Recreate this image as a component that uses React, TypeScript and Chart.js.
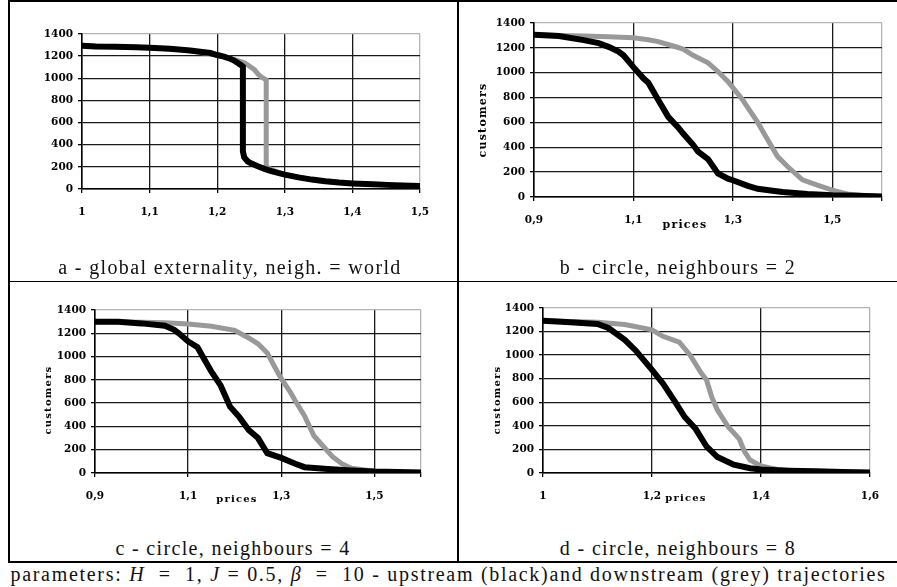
import React, { useEffect, useRef } from "react";
import { Chart, registerables } from "chart.js";
Chart.register(...registerables);

// ---------- data ----------
const yTickValues = [0, 200, 400, 600, 800, 1000, 1200, 1400];

// panel a - global externality
const aXTicks = [1, 1.1, 1.2, 1.3, 1.4, 1.5];
const aXLabels = ["1", "1,1", "1,2", "1,3", "1,4", "1,5"];
const aBlackX = [1.0, 1.02, 1.05, 1.08, 1.1, 1.13, 1.16, 1.19, 1.2, 1.21, 1.22, 1.225, 1.23, 1.235, 1.238, 1.238, 1.24, 1.245, 1.25, 1.26, 1.27, 1.28, 1.29, 1.3, 1.32, 1.34, 1.36, 1.38, 1.4, 1.43, 1.46, 1.5];
const aBlackY = [1295, 1288, 1284, 1280, 1276, 1266, 1250, 1228, 1210, 1195, 1175, 1160, 1140, 1120, 1105, 340, 285, 250, 232, 205, 182, 162, 145, 130, 105, 85, 70, 58, 50, 42, 35, 28];
const aGreyX = [1.0, 1.05, 1.1, 1.15, 1.2, 1.22, 1.235, 1.24, 1.245, 1.25, 1.255, 1.26, 1.265, 1.27, 1.2725, 1.2725, 1.28, 1.29, 1.3, 1.35, 1.4, 1.5];
const aGreyY = [1295, 1284, 1276, 1258, 1210, 1180, 1150, 1140, 1122, 1100, 1078, 1040, 1012, 995, 985, 205, 175, 150, 130, 75, 50, 28];

// panel b - circle, neighbours = 2
const bXTicks = [0.9, 1.1, 1.3, 1.5, 1.6];
const bXLabels = ["0,9", "1,1", "1,3", "1,5", ""];
const bBlackX = [0.9, 0.95, 1.0, 1.03, 1.05, 1.07, 1.08, 1.1, 1.12, 1.13, 1.15, 1.17, 1.19, 1.2, 1.22, 1.23, 1.25, 1.27, 1.29, 1.3, 1.33, 1.35, 1.38, 1.4, 1.45, 1.5, 1.55, 1.6];
const bBlackY = [1305, 1295, 1262, 1238, 1208, 1170, 1140, 1045, 955, 920, 780, 645, 560, 510, 420, 365, 305, 190, 148, 135, 90, 66, 50, 40, 25, 15, 10, 5];
const bGreyX = [0.9, 0.95, 1.0, 1.05, 1.1, 1.13, 1.15, 1.18, 1.2, 1.22, 1.25, 1.27, 1.29, 1.3, 1.32, 1.33, 1.35, 1.37, 1.39, 1.41, 1.44, 1.47, 1.5, 1.53, 1.56, 1.6];
const bGreyY = [1305, 1300, 1295, 1290, 1282, 1265, 1250, 1215, 1190, 1140, 1080, 1010, 930, 880, 780, 720, 600, 460, 325, 245, 138, 95, 55, 25, 12, 5];

// panel c - circle, neighbours = 4
const cXTicks = [0.9, 1.1, 1.3, 1.5, 1.6];
const cXLabels = ["0,9", "1,1", "1,3", "1,5", ""];
const cBlackX = [0.9, 0.95, 1.0, 1.05, 1.07, 1.08, 1.1, 1.12, 1.13, 1.15, 1.17, 1.19, 1.21, 1.23, 1.25, 1.27, 1.3, 1.33, 1.35, 1.4, 1.45, 1.5, 1.55, 1.6];
const cBlackY = [1300, 1300, 1285, 1265, 1230, 1200, 1130, 1080, 1010, 870, 750, 570, 480, 370, 300, 170, 130, 80, 50, 35, 22, 12, 8, 5];
const cGreyX = [0.9, 1.0, 1.05, 1.1, 1.15, 1.2, 1.23, 1.25, 1.27, 1.29, 1.3, 1.32, 1.33, 1.35, 1.37, 1.39, 1.41, 1.43, 1.45, 1.5, 1.55, 1.6];
const cGreyY = [1300, 1295, 1290, 1280, 1260, 1225, 1160, 1110, 1030, 880, 810, 690, 620, 490, 320, 230, 140, 80, 40, 15, 8, 5];

// panel d - circle, neighbours = 8
const dXTicks = [1.0, 1.2, 1.4, 1.6];
const dXLabels = ["1", "1,2", "1,4", "1,6"];
const dBlackX = [1.0, 1.05, 1.1, 1.12, 1.15, 1.17, 1.2, 1.22, 1.24, 1.26, 1.28, 1.3, 1.32, 1.35, 1.38, 1.4, 1.45, 1.5, 1.55, 1.6];
const dBlackY = [1292, 1280, 1265, 1230, 1130, 1040, 875, 760, 620, 475, 375, 225, 135, 70, 40, 30, 20, 15, 8, 5];
const dGreyX = [1.0, 1.05, 1.1, 1.15, 1.2, 1.22, 1.25, 1.27, 1.29, 1.3, 1.31, 1.32, 1.34, 1.36, 1.37, 1.38, 1.4, 1.43, 1.46, 1.5, 1.6];
const dGreyY = [1292, 1285, 1280, 1260, 1215, 1160, 1110, 1000, 850, 790, 640, 535, 390, 290, 180, 110, 60, 30, 20, 12, 5];

const captions = [
  "a - global externality, neigh. = world",
  "b - circle, neighbours = 2",
  "c - circle, neighbours = 4",
  "d - circle, neighbours = 8",
];

// ---------- layout ----------
type Panel = {
  canvas: { left: number; top: number; width: number; height: number };
  plot: { l: number; r: number; t: number; b: number };
  xTicks: number[];
  xLabels: string[];
  blackX: number[];
  blackY: number[];
  greyX: number[];
  greyY: number[];
};

const panels: Panel[] = [
  {
    canvas: { left: 10, top: 3, width: 446, height: 277 },
    plot: { l: 82, r: 420, t: 34, b: 189 },
    xTicks: aXTicks, xLabels: aXLabels,
    blackX: aBlackX, blackY: aBlackY, greyX: aGreyX, greyY: aGreyY,
  },
  {
    canvas: { left: 459, top: 3, width: 437, height: 277 },
    plot: { l: 534, r: 882, t: 23, b: 197 },
    xTicks: bXTicks, xLabels: bXLabels,
    blackX: bBlackX, blackY: bBlackY, greyX: bGreyX, greyY: bGreyY,
  },
  {
    canvas: { left: 10, top: 283, width: 446, height: 240 },
    plot: { l: 95, r: 421, t: 310, b: 473 },
    xTicks: cXTicks, xLabels: cXLabels,
    blackX: cBlackX, blackY: cBlackY, greyX: cGreyX, greyY: cGreyY,
  },
  {
    canvas: { left: 459, top: 283, width: 437, height: 240 },
    plot: { l: 543, r: 870, t: 308, b: 473 },
    xTicks: dXTicks, xLabels: dXLabels,
    blackX: dBlackX, blackY: dBlackY, greyX: dGreyX, greyY: dGreyY,
  },
];

const tickFont = { family: "'DejaVu Serif'", size: 10.5, weight: "bold" as const };

function PanelChart({ p }: { p: Panel }) {
  const ref = useRef<HTMLCanvasElement | null>(null);
  useEffect(() => {
    if (!ref.current) return;
    const { canvas, plot } = p;
    const yAxisW = plot.l - canvas.left;
    const xAxisH = 34;
    const xMin = p.xTicks[0];
    const xMax = p.xTicks[p.xTicks.length - 1];
    const chart = new Chart(ref.current, {
      type: "line",
      data: {
        datasets: [
          {
            label: "upstream",
            data: p.blackX.map((x, i) => ({ x, y: p.blackY[i] })),
            borderColor: "#000",
            borderWidth: 6,
            pointRadius: 0,
            tension: 0,
            borderJoinStyle: "miter",
            borderCapStyle: "square",
          },
          {
            label: "downstream",
            data: p.greyX.map((x, i) => ({ x, y: p.greyY[i] })),
            borderColor: "#999999",
            borderWidth: 5,
            pointRadius: 0,
            tension: 0,
            borderJoinStyle: "miter",
            borderCapStyle: "square",
          },
        ],
      },
      options: {
        animation: false,
        responsive: false,
        devicePixelRatio: 1,
        events: [],
        layout: {
          autoPadding: false,
          padding: {
            left: 0,
            top: plot.t - canvas.top,
            right: canvas.left + canvas.width - plot.r,
            bottom: canvas.top + canvas.height - plot.b - xAxisH,
          },
        },
        plugins: { legend: { display: false }, tooltip: { enabled: false }, title: { display: false } },
        scales: {
          x: {
            type: "linear",
            min: xMin,
            max: xMax,
            afterBuildTicks: (s: any) => {
              s.ticks = p.xTicks.map((v) => ({ value: v }));
            },
            afterFit: (s: any) => {
              s.height = xAxisH;
            },
            ticks: {
              autoSkip: false,
              maxRotation: 0,
              padding: 13,
              color: "#000",
              font: tickFont,
              callback: (_v: any, i: number) => p.xLabels[i] ?? "",
            },
            grid: {
              color: (c: any) =>
                c.tick && Math.abs(c.tick.value - xMax) < 1e-9 ? "#b4b4b4" : "#1a1a1a",
              lineWidth: 1.3,
              tickLength: 4,
              tickColor: "#000",
            },
            border: { color: "#000", width: 1.5 },
          },
          y: {
            type: "linear",
            min: 0,
            max: 1400,
            afterBuildTicks: (s: any) => {
              s.ticks = yTickValues.map((v) => ({ value: v }));
            },
            afterFit: (s: any) => {
              s.width = yAxisW;
            },
            ticks: {
              padding: 5,
              color: "#000",
              font: tickFont,
              callback: (v: any) => String(v),
            },
            grid: {
              color: (c: any) =>
                c.tick && c.tick.value === 1400 ? "#b4b4b4" : "#1a1a1a",
              lineWidth: 1.3,
              tickLength: 4,
              tickColor: "#000",
            },
            border: { color: "#000", width: 1.5 },
          },
        },
      } as any,
    });
    return () => chart.destroy();
  }, [p]);
  return (
    <canvas
      ref={ref}
      width={p.canvas.width}
      height={p.canvas.height}
      style={{
        position: "absolute",
        left: p.canvas.left,
        top: p.canvas.top,
        width: p.canvas.width,
        height: p.canvas.height,
      }}
    />
  );
}

const line = (left: number, top: number, width: number, height: number) => (
  <div style={{ position: "absolute", left, top, width, height, background: "#000" }} />
);

const captionStyle = (left: number, top: number, width: number, ls: number): React.CSSProperties => ({
  position: "absolute",
  left,
  top,
  width,
  textAlign: "center",
  fontFamily: "'Liberation Serif', serif",
  fontSize: 20,
  letterSpacing: ls,
  lineHeight: "22px",
  color: "#111",
  whiteSpace: "nowrap",
});

const axisTitle = (size: number): React.CSSProperties => ({
  position: "absolute",
  fontFamily: "'DejaVu Serif', serif",
  fontWeight: "bold",
  fontSize: size,
  letterSpacing: 1.2,
  color: "#000",
  whiteSpace: "nowrap",
  lineHeight: "12px",
});

function YTitle({ cx, cy, size }: { cx: number; cy: number; size: number }) {
  return (
    <div
      style={{
        ...axisTitle(size),
        left: cx - 60,
        top: cy - 6,
        width: 120,
        textAlign: "center",
        transform: "rotate(-90deg)",
      }}
    >
      customers
    </div>
  );
}

function XTitle({ cx, cy, size }: { cx: number; cy: number; size: number }) {
  return (
    <div style={{ ...axisTitle(size), left: cx - 40, top: cy - 6, width: 80, textAlign: "center" }}>
      prices
    </div>
  );
}

export default function App() {
  return (
    <div
      style={{
        position: "absolute",
        left: 0,
        top: 0,
        width: 897,
        height: 587,
        background: "#fff",
        overflow: "hidden",
      }}
    >
      {panels.map((p, i) => (
        <PanelChart key={i} p={p} />
      ))}
      {/* table rules */}
      {line(9, 0, 888, 2)}
      {line(8, 0, 2, 563)}
      {line(457, 0, 2, 563)}
      {line(9, 281, 888, 1)}
      {line(9, 561, 888, 2)}
      {/* axis titles */}
      <YTitle cx={483} cy={120} size={11} />
      <XTitle cx={685} cy={225} size={11} />
      <YTitle cx={48} cy={400} size={10} />
      <XTitle cx={237} cy={499} size={10} />
      <YTitle cx={497} cy={400} size={10} />
      <XTitle cx={686} cy={498} size={10} />
      {/* captions */}
      <div style={captionStyle(10, 256, 440, 1.35)}>{captions[0]}</div>
      <div style={captionStyle(459, 256, 438, 1.35)}>{captions[1]}</div>
      <div style={captionStyle(10, 537, 446, 1.35)}>{captions[2]}</div>
      <div style={captionStyle(459, 537, 438, 1.35)}>{captions[3]}</div>
      <div
        style={{
          ...captionStyle(0, 563, 897, 1.7),
          whiteSpace: "pre",
        }}
      >
        {"parameters: "}
        <i>H</i>
        {"  =  1, "}
        <i>J</i>
        {" = 0.5, "}
        <i>β</i>
        {"  =  10 - upstream (black)and downstream (grey) trajectories"}
      </div>
    </div>
  );
}
